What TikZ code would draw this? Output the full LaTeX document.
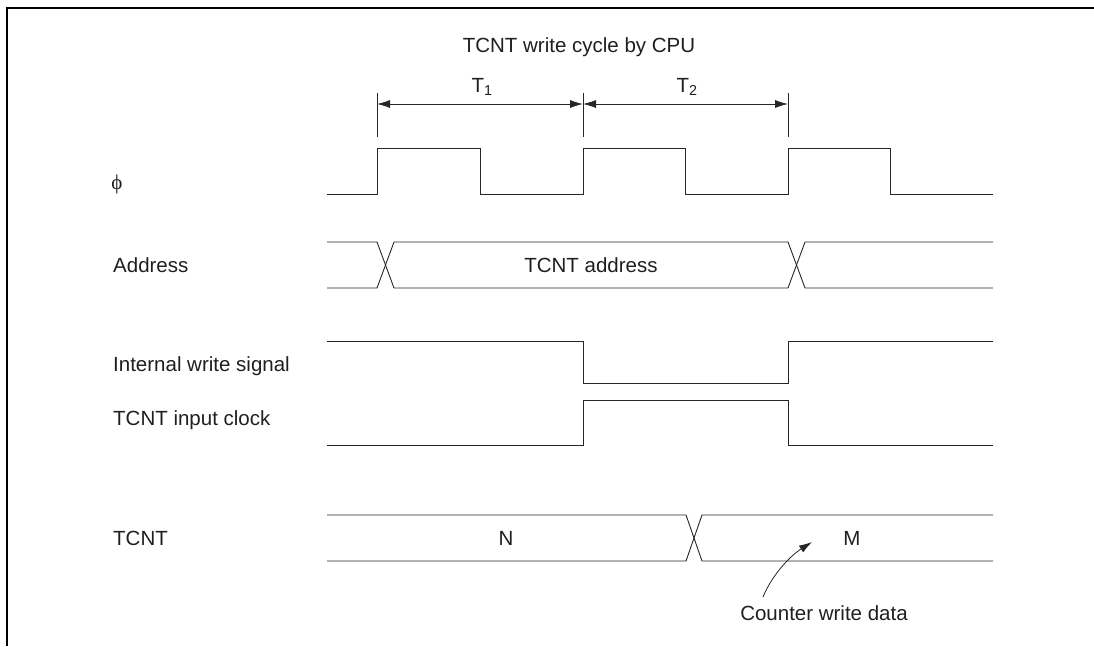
\documentclass[tikz,border=0pt]{standalone}
\usepackage{fontspec}
\setmainfont{Liberation Sans}
\newfontfamily\phifont{Liberation Serif}
\usetikzlibrary{arrows.meta}
\tikzset{
  lbl/.style={font=\fontsize{20.5}{23}\selectfont, text=black!88, inner sep=0pt},
  sig/.style={line width=0.9pt, black!85},
  dim/.style={line width=0.8pt, black!85, {Latex[length=13pt,width=8pt]}-{Latex[length=13pt,width=8pt]}},
  tick/.style={line width=0.8pt, black!85},
  frame/.style={line width=2.2pt, black}
}
\begin{document}
\begin{tikzpicture}[x=1pt,y=-1pt]
\useasboundingbox (0,0) rectangle (1094,646);
% frame
\draw[frame] (7,646) -- (7,8) -- (1094,8);
% title and T labels
\node[lbl, anchor=base] (title) at (579,52) {TCNT write cycle by CPU};
\node[lbl, anchor=base] (t1) at (482,92) {T\textsubscript{1}};
\node[lbl, anchor=base] (t2) at (687,92) {T\textsubscript{2}};
% ticks
\coordinate (k1t) at (377,93); \coordinate (k1b) at (377,137);
\coordinate (k2t) at (583,93); \coordinate (k2b) at (583,137);
\coordinate (k3t) at (788,93); \coordinate (k3b) at (788,137);
\draw[tick] (k1t) -- (k1b);
\draw[tick] (k2t) -- (k2b);
\draw[tick] (k3t) -- (k3b);
\coordinate (a1) at (377,104); \coordinate (a2) at (583,104); \coordinate (a3) at (788,104);
\draw[dim] (a1) -- (a2);
\draw[dim] (a2) -- (a3);
% signal labels
\node[font=\phifont\fontsize{21}{23}\selectfont, text=black!88, inner sep=0pt] (lphi) at (117,184) {ϕ};
\node[lbl, anchor=base west] (laddr) at (113,272) {Address};
\node[lbl, anchor=base west] (lwr) at (113,371) {Internal write signal};
\node[lbl, anchor=base west] (lclk) at (113,425) {TCNT input clock};
\node[lbl, anchor=base west] (ltcnt) at (113,545) {TCNT};
% phi clock
\draw[sig] (327,194) -- (377,194) -- (377,148) -- (480,148) -- (480,194) -- (583,194) -- (583,148) -- (685,148) -- (685,194) -- (788,194) -- (788,148) -- (890,148) -- (890,194) -- (993,194);
% address bus
\draw[sig] (327,242) -- (377,242) -- (394,288) -- (788,288) -- (805,242) -- (993,242);
\draw[sig] (327,288) -- (377,288) -- (394,242) -- (788,242) -- (805,288) -- (993,288);
\node[lbl, anchor=base] (addr) at (591,272) {TCNT address};
% internal write signal
\draw[sig] (327,341) -- (583,341) -- (583,383) -- (788,383) -- (788,341) -- (993,341);
% TCNT input clock
\draw[sig] (327,445) -- (583,445) -- (583,400) -- (788,400) -- (788,445) -- (993,445);
% TCNT
\draw[sig] (327,515) -- (686,515) -- (702,561) -- (993,561);
\draw[sig] (327,561) -- (686,561) -- (702,515) -- (993,515);
\node[lbl, anchor=base] (n) at (506,545) {N};
\node[lbl, anchor=base] (m) at (852,545) {M};
% annotation
\node[lbl, anchor=base] (cwd) at (824,620) {Counter write data};
\coordinate (tail) at (763,597);
\coordinate (tip) at (812,542);
\draw[line width=0.8pt, black!85, -{Latex[length=13pt,width=8pt]}] (tail) .. controls (772,575) and (790,556) .. (tip);
\end{tikzpicture}
\end{document}
